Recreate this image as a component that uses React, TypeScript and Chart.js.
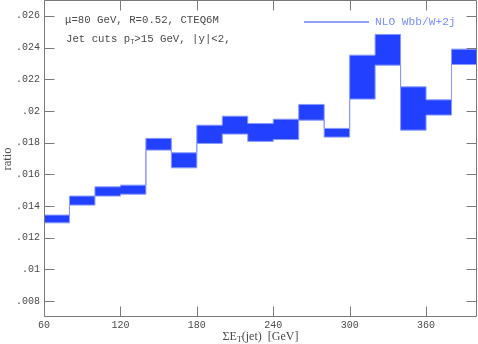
import React, { useEffect, useRef } from 'react';
import { Chart, registerables } from 'chart.js';

Chart.register(...registerables);

// ---- data ----
const binEdges = [60, 80, 100, 120, 140, 160, 180, 200, 220, 240, 260, 280, 300, 320, 340, 360, 380, 400];
const bandLower = [0.01294, 0.01406, 0.01463, 0.01475, 0.01753, 0.01641, 0.01795, 0.01854, 0.01808, 0.0182, 0.01942, 0.01835, 0.02075, 0.02289, 0.01879, 0.01974, 0.02293];
const bandUpper = [0.01343, 0.01463, 0.01521, 0.01532, 0.01827, 0.01736, 0.0191, 0.01967, 0.01921, 0.01948, 0.02041, 0.0189, 0.02352, 0.02483, 0.02152, 0.0207, 0.0239];
const priorBinEdge = 40;
const priorBinValue = 0.0122;
const xTickLabels = [60, 120, 180, 240, 300, 360];
const yTickLabels = [0.008, 0.01, 0.012, 0.014, 0.016, 0.018, 0.02, 0.022, 0.024, 0.026];
const seriesLabel = 'NLO Wbb/W+2j';
const noteLines = ['\u03bc=80 GeV, R=0.52, CTEQ6M'];

const FILL = 'rgb(34,64,255)';
const EDGE = 'rgb(136,154,255)';
const AXIS = '#7a7a7a';
const TEXT = '#4a4a4a';
const MONO = '"Liberation Mono", "DejaVu Sans Mono", monospace';
const SERIF = '"Liberation Serif", "DejaVu Serif", serif';

function buildPoints(vals: number[]) {
  const pts = [{ x: priorBinEdge, y: priorBinValue }];
  for (let i = 0; i < vals.length; i++) pts.push({ x: binEdges[i], y: vals[i] });
  pts.push({ x: binEdges[binEdges.length - 1], y: vals[vals.length - 1] });
  return pts;
}

function fmtY(v: number) {
  let s = v.toFixed(3).replace(/0+$/, '').replace(/\.$/, '');
  return s.replace(/^0\./, '.');
}

const isMajorX = (v: number) => xTickLabels.some((t) => Math.abs(t - v) < 1e-6);
const isMajorY = (v: number) => yTickLabels.some((t) => Math.abs(t - v) < 1e-7);

const framePlugin = {
  id: 'frameTicks',
  afterDraw(chart: any) {
    const ctx = chart.ctx;
    const { left, right, top, bottom } = chart.chartArea;
    const xs = chart.scales.x;
    const ys = chart.scales.y;
    ctx.save();
    ctx.strokeStyle = AXIS;
    ctx.lineWidth = 1;
    const L = left + 0.5, R = right - 0.5, T = top + 0.5, B = bottom - 0.5;
    ctx.beginPath();
    ctx.moveTo(L, T); ctx.lineTo(R, T); ctx.lineTo(R, B); ctx.lineTo(L, B); ctx.closePath();
    for (const t of xs.ticks) {
      const px = Math.round(xs.getPixelForValue(t.value)) + 0.5;
      const len = isMajorX(t.value) ? 10 : 5;
      ctx.moveTo(px, B); ctx.lineTo(px, B - len);
      ctx.moveTo(px, T); ctx.lineTo(px, T + len);
    }
    for (const t of ys.ticks) {
      const py = Math.round(ys.getPixelForValue(t.value)) + 0.5;
      const len = isMajorY(t.value) ? 10 : 5;
      ctx.moveTo(L, py); ctx.lineTo(L + len, py);
      ctx.moveTo(R, py); ctx.lineTo(R - len, py);
    }
    ctx.stroke();

    // annotations
    ctx.fillStyle = TEXT;
    ctx.textBaseline = 'alphabetic';
    ctx.textAlign = 'left';
    ctx.font = `10.7px ${MONO}`;
    ctx.fillText(noteLines[0], 65, 23);
    let x = 66;
    const y2 = 41.5;
    ctx.fillText('Jet cuts p', x, y2);
    x += ctx.measureText('Jet cuts p').width;
    ctx.font = `7px ${MONO}`;
    ctx.fillText('T', x, y2 + 2);
    x += ctx.measureText('T').width;
    ctx.font = `10.7px ${MONO}`;
    ctx.fillText('>15 GeV, |y|<2,', x, y2);

    // legend
    ctx.strokeStyle = 'rgb(110,130,255)';
    ctx.lineWidth = 1.5;
    ctx.beginPath();
    ctx.moveTo(304, 22); ctx.lineTo(369, 22);
    ctx.stroke();
    ctx.fillStyle = 'rgb(120,140,255)';
    ctx.font = `11.2px ${MONO}`;
    ctx.textBaseline = 'middle';
    ctx.fillText(seriesLabel, 375, 22);

    // x title with subscript
    ctx.fillStyle = TEXT;
    ctx.textBaseline = 'alphabetic';
    const big = `12px ${SERIF}`;
    const small = `8px ${SERIF}`;
    const parts = [
      { s: '\u03a3E', f: big, dy: 0 },
      { s: 'T', f: small, dy: 2 },
      { s: '(jet)  [GeV]', f: big, dy: 0 },
    ];
    let total = 0;
    for (const p of parts) { ctx.font = p.f; total += ctx.measureText(p.s).width; }
    let cx = (left + right) / 2 - total / 2;
    for (const p of parts) {
      ctx.font = p.f;
      ctx.fillText(p.s, cx, 339.5 + p.dy);
      cx += ctx.measureText(p.s).width;
    }

    // y title
    ctx.save();
    ctx.translate(8, 159);
    ctx.rotate(-Math.PI / 2);
    ctx.font = `12.5px ${SERIF}`;
    ctx.textAlign = 'center';
    ctx.textBaseline = 'middle';
    ctx.fillText('ratio', 0, 0);
    ctx.restore();

    ctx.restore();
  },
};

export default function App() {
  const ref = useRef<HTMLCanvasElement>(null);
  useEffect(() => {
    if (!ref.current) return;
    const chart = new Chart(ref.current, {
      type: 'line',
      data: {
        datasets: [
          {
            label: 'upper',
            data: buildPoints(bandUpper),
            stepped: true,
            borderColor: EDGE,
            borderWidth: 1,
            backgroundColor: FILL,
            fill: '+1',
            pointRadius: 0,
          },
          {
            label: seriesLabel,
            data: buildPoints(bandLower),
            stepped: true,
            borderColor: EDGE,
            borderWidth: 1,
            fill: false,
            pointRadius: 0,
          },
        ],
      },
      options: {
        animation: false,
        responsive: false,
        devicePixelRatio: 1,
        layout: { padding: { top: 0, right: 1, left: 0, bottom: 0 } },
        plugins: {
          legend: { display: false },
          tooltip: { enabled: false },
          filler: { drawTime: 'beforeDatasetsDraw' },
        },
        scales: {
          x: {
            type: 'linear',
            min: 60,
            max: 400,
            border: { display: false },
            grid: { display: false, drawTicks: false },
            ticks: {
              stepSize: 20,
              autoSkip: false,
              maxRotation: 0,
              padding: 2,
              color: TEXT,
              font: { family: MONO, size: 10 },
              callback: (v: any) => (isMajorX(Number(v)) ? String(v) : null),
            },
            afterFit: (s: any) => { s.height = 27; s.paddingLeft = 0; s.paddingRight = 0; },
          },
          y: {
            type: 'linear',
            min: 0.007,
            max: 0.027,
            border: { display: false },
            grid: { display: false, drawTicks: false },
            ticks: {
              stepSize: 0.0005,
              autoSkip: false,
              padding: 4,
              color: TEXT,
              font: { family: MONO, size: 10 },
              callback: (v: any) => (isMajorY(Number(v)) ? fmtY(Number(v)) : null),
            },
            afterFit: (s: any) => { s.width = 44; s.paddingTop = 0; s.paddingBottom = 0; },
          },
        },
      },
      plugins: [framePlugin],
    });
    return () => chart.destroy();
  }, []);
  return (
    <div style={{ position: 'absolute', left: 0, top: 0, width: 478, height: 344, background: '#fff' }}>
      <canvas ref={ref} width={478} height={344} />
    </div>
  );
}
